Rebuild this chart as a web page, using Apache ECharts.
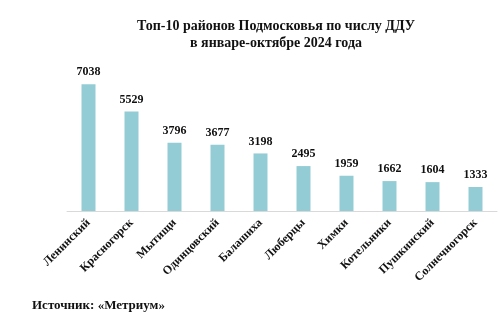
<!DOCTYPE html>
<html>
<head>
<meta charset="utf-8">
<script src="https://cdn.jsdelivr.net/npm/echarts@6/dist/echarts.min.js"></script>
<style>
  html, body { margin: 0; padding: 0; background: #fff; }
  #chart { width: 502px; height: 322px; }
</style>
</head>
<body>
<div id="chart"></div>
<script>
// Districts of the Moscow region and the number of equity contracts (Jan–Oct 2024)
const districts = ['Ленинский', 'Красногорск', 'Мытищи', 'Одинцовский', 'Балашиха',
                   'Люберцы', 'Химки', 'Котельники', 'Пушкинский', 'Солнечногорск'];
const contracts = [7038, 5529, 3796, 3677, 3198, 2495, 1959, 1662, 1604, 1333];

const titleLines = ['Топ-10 районов Подмосковья по числу ДДУ', 'в январе-октябре 2024 года'];
const sourceText = 'Источник: «Метриум»';

const serif = '"Liberation Serif", "Times New Roman", serif';

const chart = echarts.init(document.getElementById('chart'));
chart.setOption({
  animation: false,
  backgroundColor: '#ffffff',
  title: [
    {
      text: titleLines.join('\n'),
      left: 271,
      top: 13,
      textAlign: 'center',
      textStyle: { fontFamily: serif, fontWeight: 'bold', fontSize: 14, color: '#111', lineHeight: 17 }
    },
    {
      text: sourceText,
      left: 27,
      top: 294,
      textStyle: { fontFamily: serif, fontWeight: 'bold', fontSize: 13, color: '#111' }
    }
  ],
  grid: { left: 67, right: 5, top: 67, bottom: 111, containLabel: false },
  xAxis: {
    type: 'category',
    data: districts,
    axisLine: { lineStyle: { color: '#d9d9d9', width: 1 } },
    axisTick: { show: false },
    axisLabel: {
      interval: 0,
      rotate: 45,
      margin: 10,
      fontFamily: serif,
      fontWeight: 'bold',
      fontSize: 12,
      color: '#111'
    }
  },
  yAxis: {
    type: 'value',
    min: 0,
    max: 8000,
    show: false,
    splitLine: { show: false }
  },
  series: [{
    type: 'bar',
    data: contracts,
    barWidth: 14,
    itemStyle: { color: '#93ccd5' },
    label: {
      show: true,
      position: 'top',
      distance: 6,
      fontFamily: serif,
      fontWeight: 'bold',
      fontSize: 12,
      color: '#111'
    }
  }]
});
</script>
</body>
</html>
